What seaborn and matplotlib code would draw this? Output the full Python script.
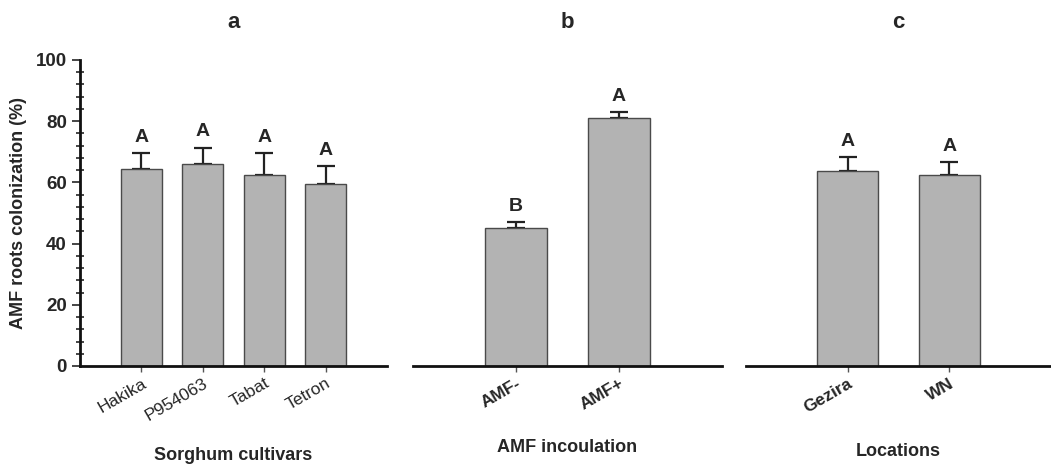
import numpy as np
import pandas as pd
import matplotlib
matplotlib.use("Agg")
import matplotlib.pyplot as plt
import seaborn as sns
from matplotlib.ticker import MultipleLocator

sns.set_style("ticks")
plt.rcParams['font.family'] = ['Liberation Sans', 'DejaVu Sans']

# data
cultivars = ["Hakika", "P954063", "Tabat", "Tetron"]
cultivar_mean = [64.3, 66.0, 62.5, 59.6]
cultivar_err = [5.4, 5.4, 7.0, 5.8]
cultivar_letters = ["A", "A", "A", "A"]

inoculation = ["AMF-", "AMF+"]
inoculation_mean = [45.0, 81.1]
inoculation_err = [2.0, 1.8]
inoculation_letters = ["B", "A"]

locations = ["Gezira", "WN"]
location_mean = [63.8, 62.4]
location_err = [4.4, 4.3]
location_letters = ["A", "A"]

panels = [
    ("a", "Sorghum cultivars", cultivars, cultivar_mean, cultivar_err, cultivar_letters, 0.67, (-1, 4), False, 455),
    ("b", "AMF incoulation", inoculation, inoculation_mean, inoculation_err, inoculation_letters, 0.6, (-1, 2), True, 447),
    ("c", "Locations", locations, location_mean, location_err, location_letters, 0.6, (-1, 2), True, 451),
]

fig = plt.figure(figsize=(10.51, 4.70), dpi=100)
W, H = 1051, 470
lefts = [(80, 387), (413, 722), (746, 1051)]
y0, y100 = 366, 60

for i, (title, xlab, cats, mean, err, letters, bw, xlim, boldtick, xlab_y) in enumerate(panels):
    l, r = lefts[i]
    ax = fig.add_axes([l / W, 1 - y0 / H, (r - l) / W, (y0 - y100) / H])
    df = pd.DataFrame({"cat": cats, "val": mean})
    sns.barplot(data=df, x="cat", y="val", color="#b3b3b3", edgecolor="#4a4a4a",
                linewidth=1.0, width=bw, saturation=1, ax=ax, zorder=2)
    ax.errorbar(range(len(cats)), mean, yerr=[np.zeros(len(err)), err], fmt="none",
                ecolor="#222222", elinewidth=1.6, capsize=6.5, capthick=1.6, zorder=1)
    for k, (m, e, t) in enumerate(zip(mean, err, letters)):
        ax.text(k, m + e + 2.3, t, ha="center", va="bottom", fontsize=14, fontweight="bold")
    ax.set_xlim(*xlim)
    ax.set_ylim(0, 100)
    ax.set_xlabel("")
    ax.set_ylabel("")
    fig.text((l + r) / 2 / W, 1 - 22 / H, title, ha="center", va="center",
             fontsize=16, fontweight="bold")
    fig.text((l + r) / 2 / W, 1 - xlab_y / H, xlab, ha="center", va="center",
             fontsize=13, fontweight="bold")
    for s in ["top", "right"]:
        ax.spines[s].set_visible(False)
    ax.spines["bottom"].set_linewidth(2.0)
    ax.spines["bottom"].set_color("#111111")
    ax.tick_params(axis="x", length=4, width=1, color="#555555", pad=3)
    ax.set_xticks(range(len(cats)))
    ax.set_xticklabels(cats, rotation=30, ha="right", rotation_mode="anchor",
                       fontsize=12.5, fontweight="bold" if boldtick else "normal")
    if i == 0:
        ax.spines["left"].set_linewidth(2.0)
        ax.spines["left"].set_color("#111111")
        ax.yaxis.set_major_locator(MultipleLocator(20))
        ax.yaxis.set_minor_locator(MultipleLocator(4))
        ax.tick_params(axis="y", which="major", length=6, width=1.2, labelsize=13.5)
        ax.tick_params(axis="y", which="minor", direction="inout", length=6, width=1.2)
        for lab in ax.get_yticklabels():
            lab.set_fontweight("bold")
        ax.set_ylabel("AMF roots colonization (%)", fontsize=13, fontweight="bold", labelpad=6)
    else:
        ax.spines["left"].set_visible(False)
        ax.set_yticks([])

fig.savefig("out.png", dpi=100)
